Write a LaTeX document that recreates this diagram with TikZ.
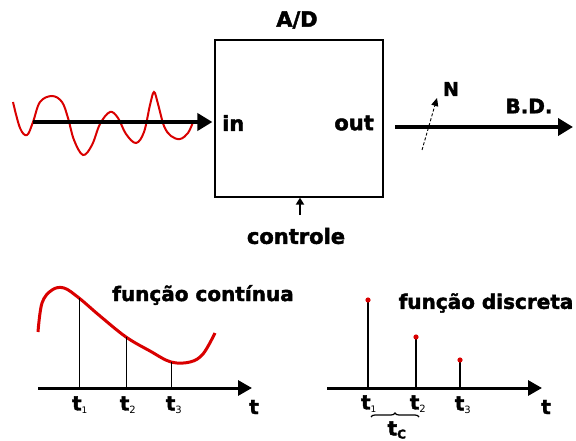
\documentclass[tikz,border=0pt]{standalone}
\usepackage{fontspec}
\setmainfont{DejaVu Sans}[BoldFeatures={FakeBold=2}]
\usetikzlibrary{arrows.meta,decorations.pathreplacing}
\tikzset{
  rotulo/.style={font=\fontsize{21}{24}\selectfont\bfseries, inner sep=0pt},
  rotulob/.style={font=\fontsize{20}{23}\selectfont\bfseries, inner sep=0pt},
  seta/.style={line width=4.5pt, -{Triangle[length=15pt,width=17pt]}},
  eixo/.style={line width=3pt, -{Triangle[length=14pt,width=15pt]}},
  sinal/.style={red!85!black, line width=2pt},
}
\begin{document}
\begin{tikzpicture}[x=1pt,y=-1pt]
        \useasboundingbox (0,0) rectangle (576,441);
        % Conversor A/D
        \node[draw, line width=1.2pt, minimum width=168pt, minimum height=157pt, inner sep=0pt] (ad) at (299,118.5) {};
        \node[rotulo] (titulo) at (297,20) {A/D};
        \node[rotulo, anchor=west] (in) at (222,123) {in};
        \node[rotulo, anchor=east] (out) at (374,123) {out};
        % Entrada com sinal analógico
        \draw[sinal] plot[smooth, tension=0.6] coordinates {(13,102) (20,128) (27,135) (33,122) (40,102) (52,96) (62,102) (68,118) (74,140) (83,155) (92,145) (100,124) (110,112) (118,118) (126,134) (136,143) (144,132) (150,105) (154,92) (158,104) (164,126) (171,136) (180,139) (188,133) (193,122)};
        \coordinate (ini) at (33,122);
        \draw[seta, shorten >=2pt] (ini) -- (ini -| ad.west);
        % Saída para B.D.
        \coordinate (sai) at (395,127);
        \coordinate (fim) at (573,127);
        \draw[seta] (sai) -- (fim);
        \node[rotulo, font=\fontsize{20}{23}\selectfont\bfseries] (bd) at (529,106) {B.D.};
        \coordinate (n0) at (422,150);
        \coordinate (n1) at (437,98);
        \draw[densely dashed, line width=0.9pt, -{Triangle[length=8pt,width=7pt]}] (n0) -- (n1);
        \node[rotulo, font=\fontsize{19}{22}\selectfont\bfseries] (nbits) at (451,89) {N};
        % Controle
        \node[rotulo] (controle) at (296,236) {controle};
        \coordinate (c0) at (300,215);
        \draw[line width=1.8pt, -{Triangle[length=7pt,width=8pt]}] (c0) -- (ad.south -| c0);
        % Função contínua
        \begin{scope}
            \draw[sinal, line width=3pt] plot[smooth, tension=0.6] coordinates {(38,332) (42,303) (52,290) (64,288) (79,298) (100,316) (126,337) (150,351) (171,362) (190,362) (203,354) (215,333)};
            \foreach \x/\y in {79/298, 126/337, 171/362} { \draw[line width=0.8pt] (\x,\y) -- (\x,388); }
            \coordinate (e0) at (38,388);
            \coordinate (e1) at (252,388);
            \draw[eixo] (e0) -- (e1);
            \node[rotulob] (tc1) at (80,405) {t\textsubscript{\fontsize{9}{9}\selectfont\mdseries 1}};
            \node[rotulob] (tc2) at (128,405) {t\textsubscript{\fontsize{10}{10}\selectfont\mdseries 2}};
            \node[rotulob] (tc3) at (174,405) {t\textsubscript{\fontsize{10}{10}\selectfont\mdseries 3}};
            \node[rotulob] (tc) at (254,407) {t};
            \node[rotulob] (cont) at (203,295) {função contínua};
        \end{scope}
        % Função discreta
        \begin{scope}
            \foreach \x/\y in {368/300, 416/337, 460/360} {
                \draw[line width=1.8pt] (\x,\y) -- (\x,388);
                \fill[red!85!black] (\x,\y) circle (2.6pt);
            }
            \coordinate (d0) at (327,388);
            \coordinate (d1) at (542,388);
            \draw[eixo] (d0) -- (d1);
            \node[rotulob] (td1) at (369,404) {t\textsubscript{\fontsize{9}{9}\selectfont\mdseries 1}};
            \node[rotulob] (td2) at (418,404) {t\textsubscript{\fontsize{10}{10}\selectfont\mdseries 2}};
            \node[rotulob] (td3) at (463,405) {t\textsubscript{\fontsize{10}{10}\selectfont\mdseries 3}};
            \node[rotulob] (td) at (546,407) {t};
            \coordinate (ch0) at (371,417);
            \coordinate (ch1) at (419,417);
            \draw[line width=1.2pt, decorate, decoration={brace, mirror, amplitude=4pt}] (ch1) -- (ch0);
            \node[rotulob] (tcc) at (397,430) {t\textsubscript{\fontsize{12}{12}\selectfont C}};
            \node[rotulob] (disc) at (486,303) {função discreta};
        \end{scope}
\end{tikzpicture}
\end{document}
